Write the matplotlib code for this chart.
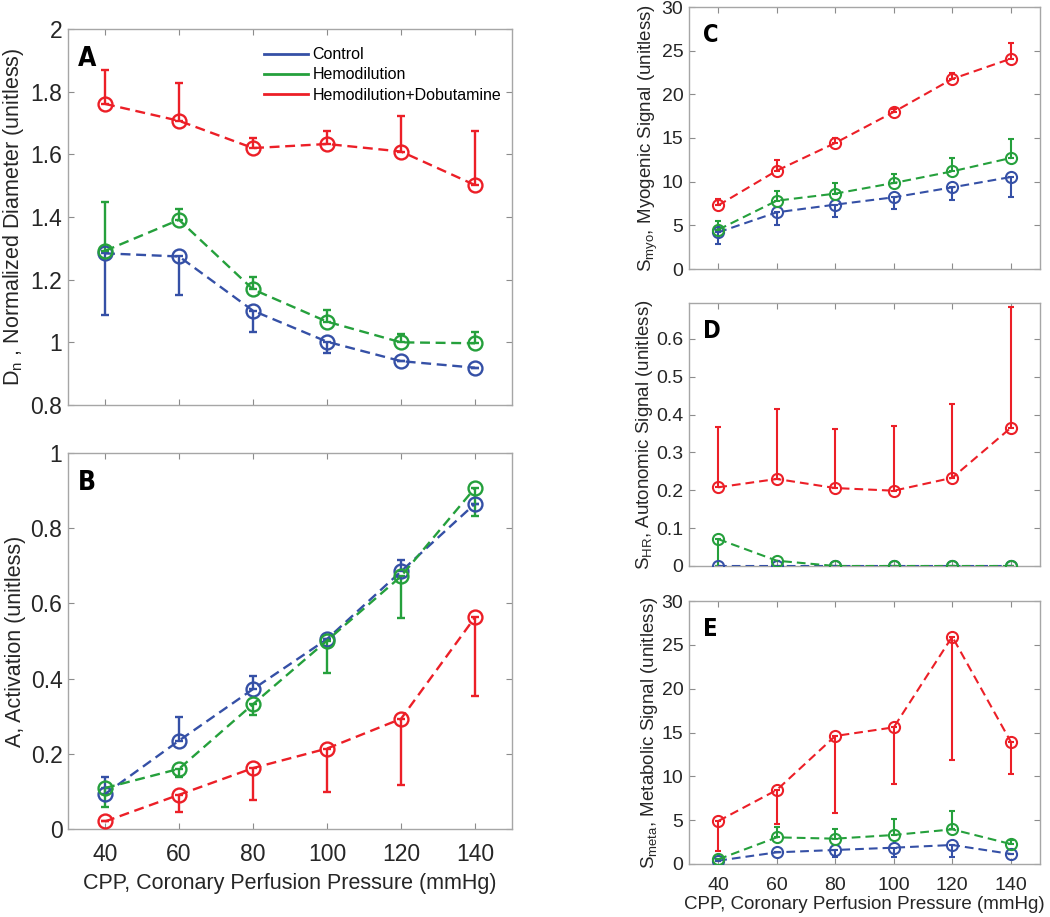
import matplotlib
matplotlib.use("Agg")
import matplotlib.pyplot as plt

plt.rcParams["font.family"] = ["Liberation Sans", "DejaVu Sans"]
plt.rcParams["mathtext.default"] = "regular"

CPP = [40, 60, 80, 100, 120, 140]
GROUPS = ["Control", "Hemodilution", "Hemodilution+Dobutamine"]
COLORS = ["#3550a6", "#25a03c", "#ec1f27"]

# mean values, and lower/upper error lengths (one sided bars)
dn = [[1.284, 1.274, 1.101, 1.002, 0.940, 0.919],
      [1.292, 1.391, 1.169, 1.066, 1.000, 0.997],
      [1.761, 1.707, 1.620, 1.633, 1.609, 1.502]]
dn_lo = [[0.198, 0.122, 0.068, 0.035, 0.0, 0.0],
         [0, 0, 0, 0, 0, 0],
         [0, 0, 0, 0, 0, 0]]
dn_hi = [[0, 0, 0, 0, 0, 0],
         [0.157, 0.035, 0.041, 0.037, 0.027, 0.036],
         [0.109, 0.120, 0.032, 0.042, 0.112, 0.174]]

act = [[0.093, 0.235, 0.372, 0.505, 0.685, 0.865],
       [0.109, 0.160, 0.332, 0.501, 0.672, 0.907],
       [0.020, 0.091, 0.162, 0.214, 0.293, 0.563]]
act_lo = [[0, 0, 0, 0, 0, 0],
          [0.051, 0.023, 0.028, 0.086, 0.111, 0.075],
          [0, 0.047, 0.084, 0.116, 0.177, 0.208]]
act_hi = [[0.045, 0.062, 0.036, 0, 0.030, 0],
          [0, 0, 0, 0, 0, 0],
          [0, 0, 0, 0, 0, 0]]

myo = [[4.20, 6.49, 7.37, 8.21, 9.35, 10.53],
       [4.50, 7.82, 8.63, 9.85, 11.18, 12.71],
       [7.29, 11.26, 14.43, 17.98, 21.76, 24.08]]
myo_lo = [[1.34, 1.41, 1.42, 1.34, 1.41, 2.32],
          [0, 0, 0, 0, 0, 0],
          [0, 0, 0, 0, 0, 0]]
myo_hi = [[0, 0, 0, 0, 0, 0],
          [0.96, 1.07, 1.22, 1.07, 1.53, 2.18],
          [0.76, 1.26, 0.57, 0.32, 0.68, 1.80]]

shr = [[0, 0, 0, 0, 0, 0],
       [0.071, 0.014, 0, 0, 0, 0],
       [0.208, 0.230, 0.206, 0.199, 0.233, 0.365]]
shr_lo = [[0, 0, 0, 0, 0, 0],
          [0.071, 0, 0, 0, 0, 0],
          [0, 0, 0, 0, 0, 0]]
shr_hi = [[0, 0, 0, 0, 0, 0],
          [0, 0, 0, 0, 0, 0],
          [0.160, 0.184, 0.157, 0.171, 0.194, 0.319]]

meta = [[0.38, 1.33, 1.60, 1.86, 2.17, 1.14],
        [0.53, 3.04, 2.89, 3.31, 3.95, 2.28],
        [4.90, 8.44, 14.60, 15.59, 25.93, 13.95]]
meta_lo = [[0, 0, 0.76, 1.10, 1.33, 0],
           [0, 0, 0, 0, 0, 0],
           [3.42, 3.90, 8.74, 6.46, 14.07, 3.68]]
meta_hi = [[0, 0, 0, 0, 0, 0],
           [0, 1.22, 1.06, 1.82, 2.10, 0.46],
           [0, 0, 0, 0, 0, 0]]

W, H = 1050, 917


def px_axes(fig, left, top, right, bottom):
    return fig.add_axes([left / W, 1 - bottom / H, (right - left) / W, (bottom - top) / H])


def draw(ax, vals, lo, hi, ms, cap, lw, fs):
    for i in range(3):
        ax.errorbar(CPP, vals[i], yerr=[lo[i], hi[i]], fmt="none", ecolor=COLORS[i],
                    elinewidth=lw, capsize=cap, capthick=lw, zorder=2)
        ax.plot(CPP, vals[i], color=COLORS[i], ls=(0, (4.2, 2.4)), lw=lw,
                marker="o", mfc="none", mec=COLORS[i], ms=ms, mew=lw,
                label=GROUPS[i], zorder=3)
    ax.set_xlim(30, 150)
    ax.set_xticks(CPP)
    ax.tick_params(direction="in", top=True, right=True, length=4, width=0.8,
                   color="#8c8c8c", labelcolor="#262626", labelsize=fs, pad=4)
    for s in ax.spines.values():
        s.set_color("#a6a6a6")
        s.set_linewidth(1.0)


def letter(ax, txt, fs, x=0.04, y=0.94):
    ax.text(x, y, txt, transform=ax.transAxes, fontsize=fs, fontweight="bold",
            va="top", ha="left", family=["DejaVu Sans"], fontstretch="condensed")


fig = plt.figure(figsize=(W / 100, H / 100), dpi=100)

# left column
axA = px_axes(fig, 68, 29, 512, 405)
draw(axA, dn, dn_lo, dn_hi, 10, 3, 1.7, 16.5)
axA.set_ylim(0.8, 2)
axA.set_yticks([0.8, 1, 1.2, 1.4, 1.6, 1.8, 2])
axA.set_yticklabels(["0.8", "1", "1.2", "1.4", "1.6", "1.8", "2"])
axA.tick_params(labelbottom=False)
axA.set_ylabel("D$_n$ , Normalized Diameter (unitless)", fontsize=15.5, color="#262626", labelpad=3)
letter(axA, "A", 19, 0.022, 0.955)
leg = axA.legend(loc="upper left", bbox_to_anchor=(0.41, 0.99), frameon=False,
                 fontsize=11.5, handlelength=2.7, handletextpad=0.3, labelspacing=0.33)
for h in leg.legend_handles:
    h.set_linestyle("-")
    h.set_marker("")
    h.set_linewidth(2)

axB = px_axes(fig, 68, 453, 512, 829)
draw(axB, act, act_lo, act_hi, 10, 3, 1.7, 16.5)
axB.set_ylim(0, 1)
axB.set_yticks([0, 0.2, 0.4, 0.6, 0.8, 1])
axB.set_yticklabels(["0", "0.2", "0.4", "0.6", "0.8", "1"])
axB.set_ylabel("A, Activation (unitless)", fontsize=15.5, color="#262626", labelpad=3)
axB.set_xlabel("CPP, Coronary Perfusion Pressure (mmHg)", fontsize=15.5, color="#262626", labelpad=5)
axB.tick_params(axis="x", pad=10)
letter(axB, "B", 19, 0.022, 0.955)

# right column
axC = px_axes(fig, 689, 7, 1040, 269)
draw(axC, myo, myo_lo, myo_hi, 8, 2.5, 1.5, 14)
axC.set_ylim(0, 30)
axC.set_yticks([0, 5, 10, 15, 20, 25, 30])
axC.tick_params(labelbottom=False)
axC.set_ylabel("S$_{myo}$, Myogenic Signal (unitless)", fontsize=13.5, color="#262626", labelpad=1)
letter(axC, "C", 17)

axD = px_axes(fig, 689, 303, 1040, 566)
draw(axD, shr, shr_lo, shr_hi, 8, 2.5, 1.5, 14)
axD.set_ylim(0, 0.695)
axD.set_yticks([0, 0.1, 0.2, 0.3, 0.4, 0.5, 0.6])
axD.set_yticklabels(["0", "0.1", "0.2", "0.3", "0.4", "0.5", "0.6"])
axD.tick_params(labelbottom=False)
axD.set_ylabel("S$_{HR}$, Autonomic Signal (unitless)", fontsize=13.5, color="#262626", labelpad=1)
letter(axD, "D", 17)

axE = px_axes(fig, 689, 601, 1040, 864)
draw(axE, meta, meta_lo, meta_hi, 8, 2.5, 1.5, 14)
axE.set_ylim(0, 30)
axE.set_yticks([0, 5, 10, 15, 20, 25, 30])
axE.tick_params(axis="x", pad=9)
axE.set_ylabel("S$_{meta}$, Metabolic Signal (unitless)", fontsize=13.5, color="#262626", labelpad=1)
axE.set_xlabel("CPP, Coronary Perfusion Pressure (mmHg)", fontsize=13.5, color="#262626", labelpad=2)
letter(axE, "E", 17)

fig.savefig("out.png", dpi=100)
